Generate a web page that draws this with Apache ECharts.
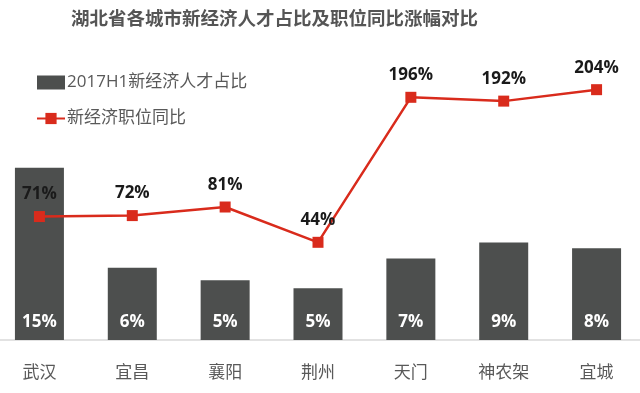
<!DOCTYPE html>
<html><head><meta charset="utf-8">
<script src="https://cdn.jsdelivr.net/npm/echarts@6/dist/echarts.min.js"></script>
<style>html,body{margin:0;padding:0;background:#fff;overflow:hidden}#c{width:650px;height:393px;margin-left:-7px}</style>
</head><body><div id="c"></div>
<script>
const categories = ['武汉','宜昌','襄阳','荆州','天门','神农架','宜城'];
const talentShare = [15.0, 6.3, 5.2, 4.5, 7.1, 8.5, 8.0];
const jobGrowth = [71, 72, 81, 44, 196, 192, 204];
const seriesNames = ['2017H1新经济人才占比', '新经济职位同比'];
const titleText = '湖北省各城市新经济人才占比及职位同比涨幅对比';

const FONT = '"Open Sans","Noto Sans CJK SC",sans-serif';
const chart = echarts.init(document.getElementById('c'), null, {renderer:'canvas'});
chart.setOption({
  animation: false,
  backgroundColor: '#fff',
  textStyle: {fontFamily: FONT},
  title: {
    text: titleText, left: 78, top: 10, padding: 0,
    textStyle: {fontSize: 18.5, fontWeight: 'bold', color: '#555', fontFamily: FONT}
  },
  legend: {
    orient: 'vertical', left: 43, top: 74, itemGap: 19, padding: 0,
    itemWidth: 28, itemHeight: 14,
    textStyle: {fontSize: 17, color: '#595959', fontFamily: FONT, padding: [0,0,0,-3]},
    data: [{name: seriesNames[0], icon: 'rect'}, {name: seriesNames[1]}]
  },
  grid: {left: 0, right: 0, top: 60, bottom: 53},
  xAxis: {
    type: 'category', data: categories,
    axisLine: {lineStyle: {color: '#d9d9d9', width: 1.5}},
    axisTick: {show: false},
    axisLabel: {fontSize: 17, color: '#595959', margin: 25, fontFamily: FONT}
  },
  yAxis: [
    {type: 'value', min: 0, max: 24.4, show: false, splitLine: {show: false}},
    {type: 'value', min: -58.4, max: 235.1, show: false, splitLine: {show: false}}
  ],
  series: [
    {
      name: seriesNames[0], type: 'bar', yAxisIndex: 0, data: talentShare,
      barWidth: 49,
      itemStyle: {color: '#4d4f4e'},
      label: {
        show: true, position: 'insideBottom', distance: 9,
        formatter: p => Math.round(p.value) + '%',
        color: '#fff', fontSize: 17, fontWeight: 'bold', fontFamily: FONT
      }
    },
    {
      name: seriesNames[1], type: 'line', yAxisIndex: 1, data: jobGrowth,
      symbol: 'rect', symbolSize: 11,
      lineStyle: {color: '#d92b1c', width: 2.5},
      itemStyle: {color: '#d92b1c'},
      label: {
        show: true, position: 'top', distance: 8,
        formatter: p => p.value + '%',
        color: '#1a1a1a', fontSize: 17, fontWeight: 'bold', fontFamily: FONT
      },
      z: 5
    }
  ]
});
</script></body></html>
